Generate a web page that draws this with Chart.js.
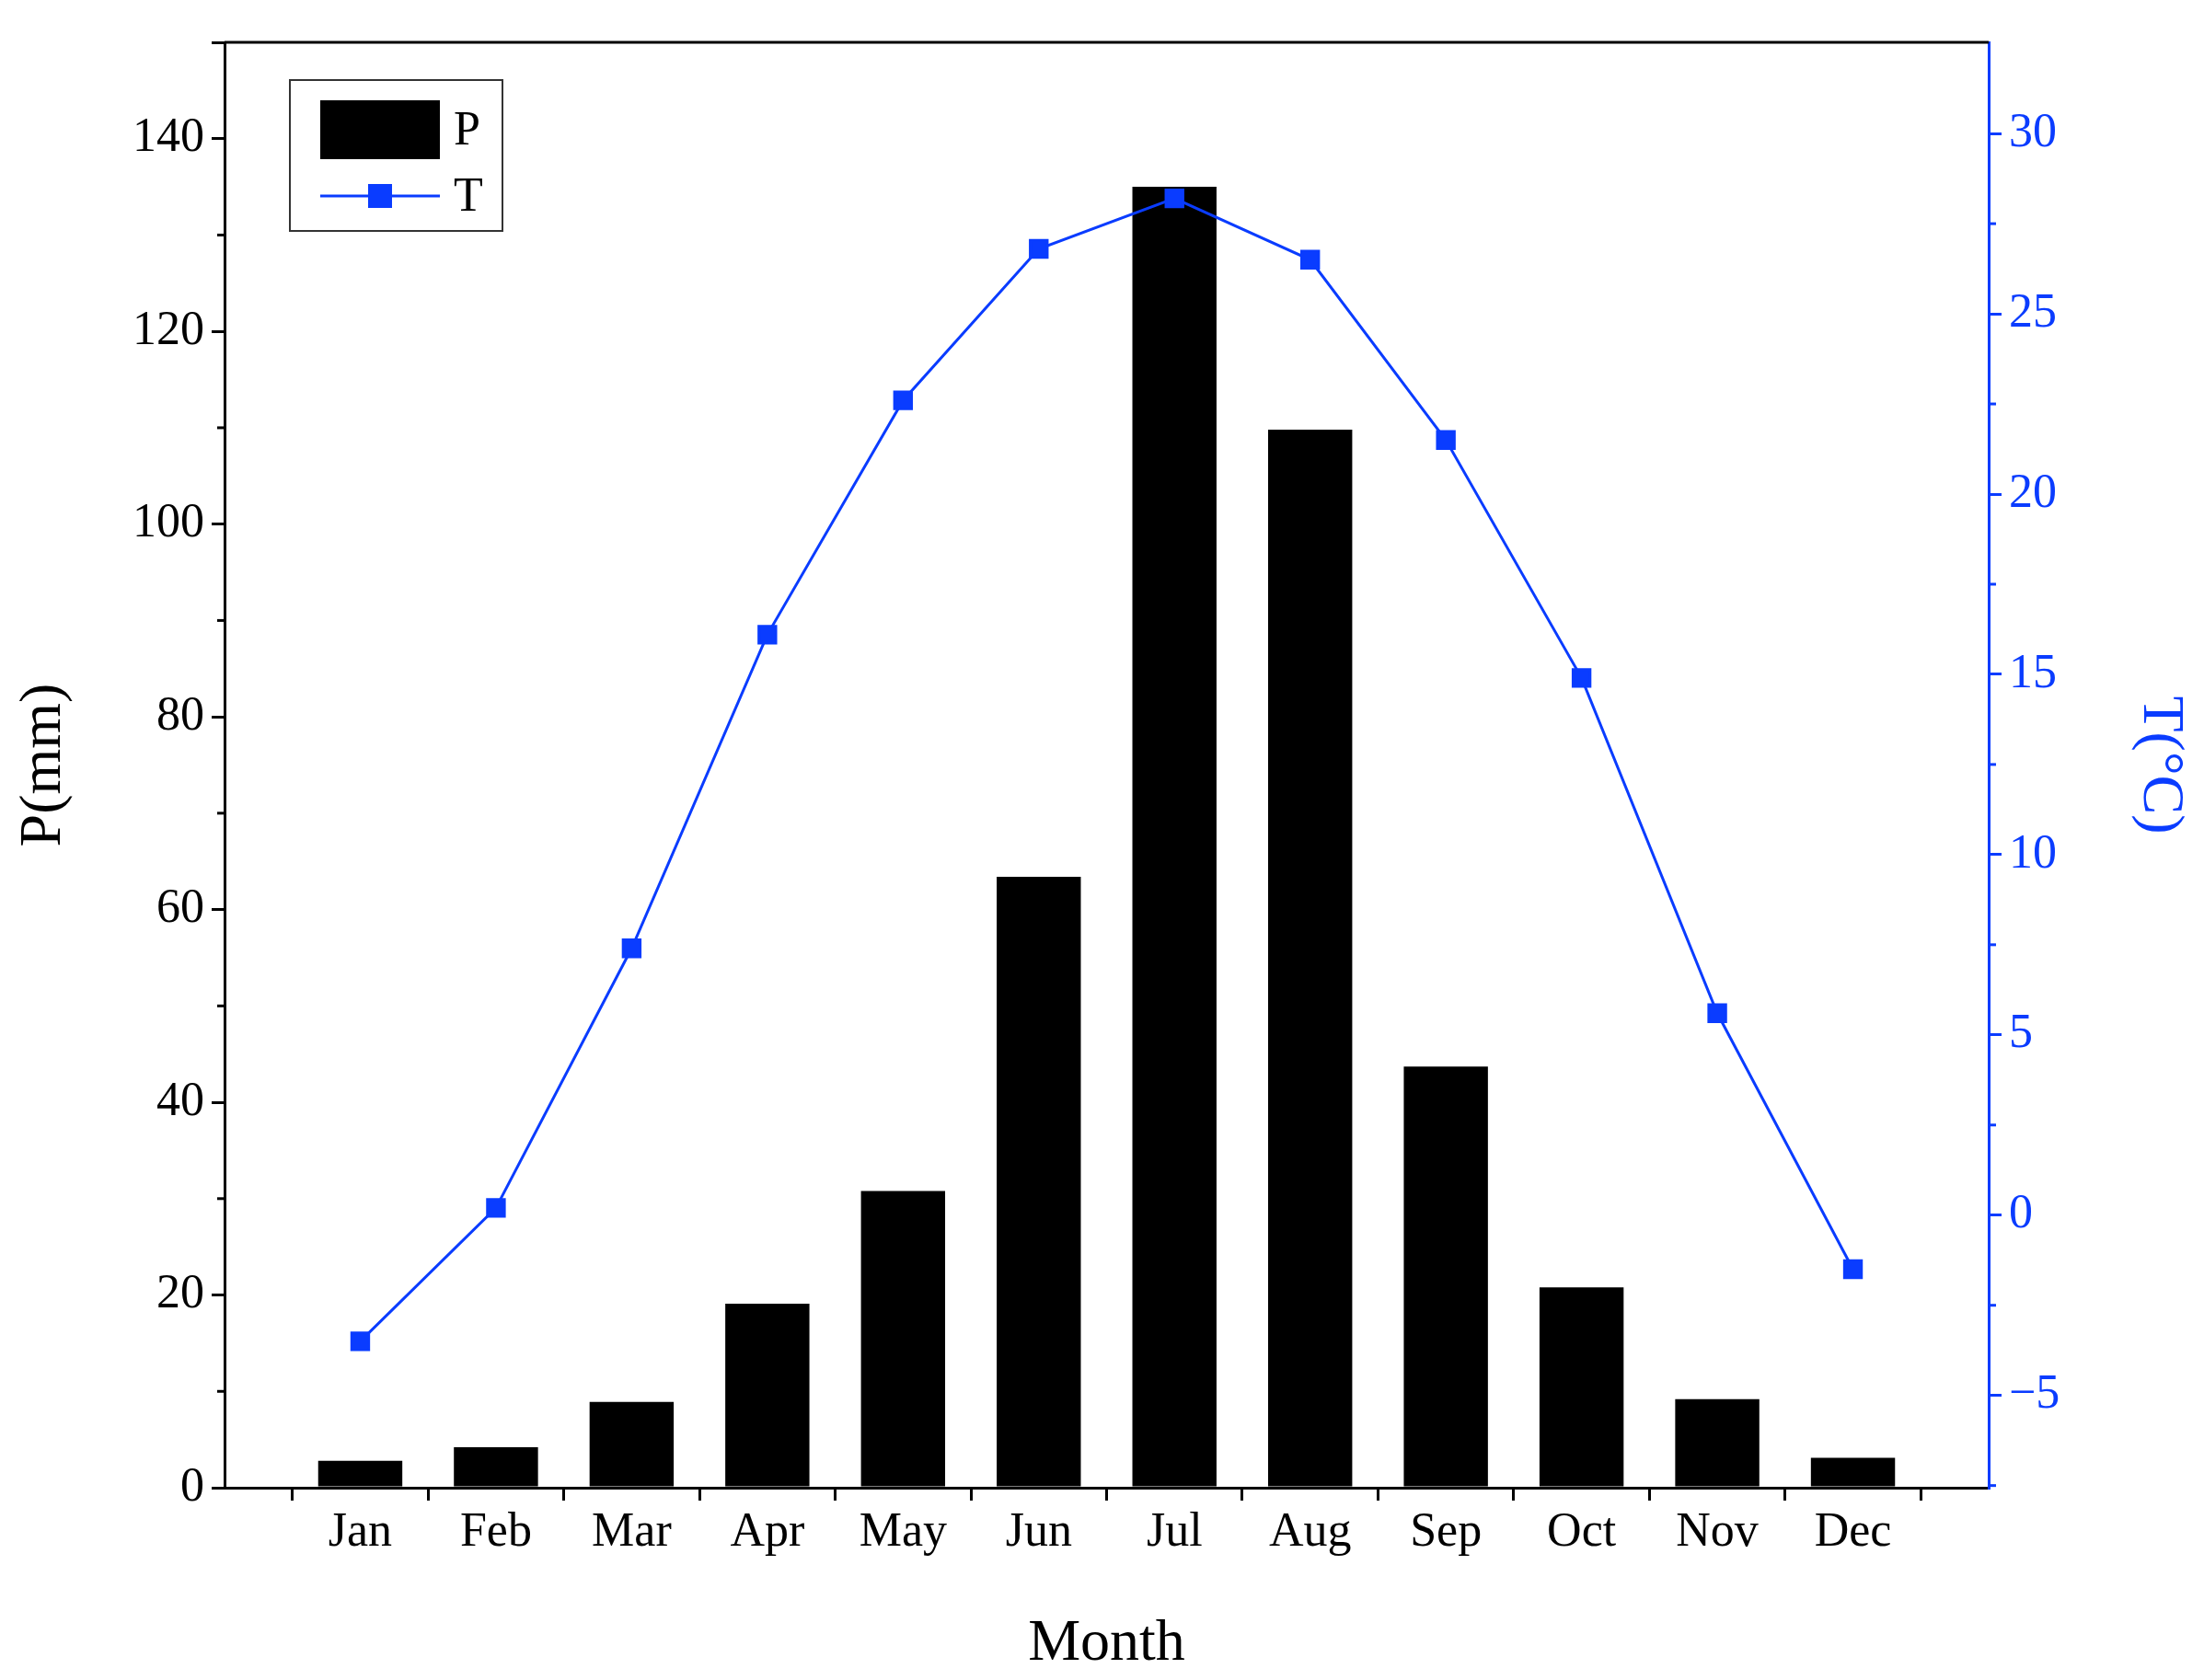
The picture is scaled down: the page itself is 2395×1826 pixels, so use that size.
<!DOCTYPE html>
<html>
<head>
<meta charset="utf-8">
<script src="https://cdn.jsdelivr.net/npm/chart.js@4"></script>
<style>
  html, body { margin: 0; padding: 0; background: #fff; }
  #wrap { width: 2395px; height: 1826px; }
</style>
</head>
<body>
<div id="wrap"><canvas id="climate"></canvas></div>
<script>
const months = ['Jan', 'Feb', 'Mar', 'Apr', 'May', 'Jun', 'Jul', 'Aug', 'Sep', 'Oct', 'Nov', 'Dec'];
const precip = [2.8, 4.2, 8.9, 19.1, 30.8, 63.4, 135, 109.8, 43.7, 20.8, 9.2, 3.1];
const temp = [-3.5, 0.2, 7.4, 16.1, 22.6, 26.8, 28.2, 26.5, 21.5, 14.9, 5.6, -1.5];

const blue = '#0a3cff';
const font = 'Liberation Serif';
const pad = arr => [null, ...arr, null];

const minorTicks = {
  id: 'minorTicks',
  afterDraw(chart) {
    const ctx = chart.ctx;
    const yl = chart.scales.y, yr = chart.scales.y2, a = chart.chartArea;
    ctx.save();
    ctx.lineWidth = 3;
    ctx.strokeStyle = '#000';
    for (let v = 10; v < 150; v += 20) {
      const y = yl.getPixelForValue(v);
      ctx.beginPath(); ctx.moveTo(a.left, y); ctx.lineTo(a.left - 8, y); ctx.stroke();
    }
    ctx.strokeStyle = blue;
    for (let v = -7.5; v < 32.5; v += 5) {
      const y = yr.getPixelForValue(v);
      ctx.beginPath(); ctx.moveTo(a.right, y); ctx.lineTo(a.right + 8, y); ctx.stroke();
    }
    // top border
    ctx.strokeStyle = '#000';
    ctx.beginPath(); ctx.moveTo(a.left, a.top); ctx.lineTo(a.right, a.top); ctx.stroke();
    // legend
    const lx = 315, ly = 87;
    ctx.lineWidth = 2;
    ctx.strokeStyle = '#333';
    ctx.strokeRect(lx, ly, 231, 164);
    ctx.fillStyle = '#000';
    ctx.fillRect(lx + 33, ly + 22, 130, 64);
    ctx.strokeStyle = blue; ctx.lineWidth = 3;
    ctx.beginPath(); ctx.moveTo(lx + 33, ly + 126); ctx.lineTo(lx + 163, ly + 126); ctx.stroke();
    ctx.fillStyle = blue;
    ctx.fillRect(lx + 85, ly + 113, 26, 26);
    ctx.fillStyle = '#000';
    ctx.font = '52px "' + font + '"';
    ctx.textBaseline = 'middle';
    ctx.fillText('P', lx + 178, ly + 56);
    ctx.fillText('T', lx + 178, ly + 128);
    ctx.restore();
  }
};

new Chart(document.getElementById('climate'), {
  data: {
    labels: pad(months).map(m => m || ''),
    datasets: [
      {
        type: 'line',
        label: 'T',
        data: pad(temp),
        yAxisID: 'y2',
        borderColor: blue,
        backgroundColor: blue,
        borderWidth: 3,
        pointStyle: 'rect',
        pointRadius: 13,
        tension: 0
      },
      {
        type: 'bar',
        label: 'P',
        data: pad(precip),
        yAxisID: 'y',
        backgroundColor: '#000',
        barPercentage: 0.62,
        categoryPercentage: 1
      }
    ]
  },
  options: {
    responsive: true,
    maintainAspectRatio: false,
    animation: false,
    layout: { padding: { top: 46 } },
    plugins: { legend: { display: false }, tooltip: { enabled: false } },
    scales: {
      x: {
        offset: false,
        border: { color: '#000', width: 3 },
        grid: { drawOnChartArea: false, tickLength: 14, tickColor: '#000', lineWidth: 3 },
        ticks: { color: '#000', font: { family: font, size: 52 }, maxRotation: 0, autoSkip: false, padding: 4 },
        title: { display: true, text: 'Month', color: '#000', font: { family: font, size: 64 }, padding: 0 },
        afterFit: s => { s.height = 209; }
      },
      y: {
        position: 'left',
        min: 0, max: 150,
        border: { color: '#000', width: 3 },
        grid: { drawOnChartArea: false, tickLength: 14, tickColor: '#000', lineWidth: 3 },
        ticks: { stepSize: 20, color: '#000', font: { family: font, size: 52 }, padding: 8,
                 callback: v => v > 140 ? '' : v },
        title: { display: true, text: 'P(mm)', color: '#000', font: { family: font, size: 64 }, padding: 10 },
        afterFit: s => { s.width = 244; }
      },
      y2: {
        position: 'right',
        min: -7.56, max: 32.53,
        border: { color: blue, width: 3 },
        grid: { drawOnChartArea: false, tickLength: 14, tickColor: blue, lineWidth: 3 },
        ticks: { stepSize: 5, color: blue, font: { family: font, size: 52 }, padding: 8,
                 callback: v => v.toString().replace('-', '\u2212') },
        afterBuildTicks: s => { s.ticks = [-5, 0, 5, 10, 15, 20, 25, 30].map(v => ({ value: v })); },
        title: { display: true, text: 'T(°C)', color: blue, font: { family: font, size: 64 }, padding: 10 },
        afterFit: s => { s.width = 234; }
      }
    }
  },
  plugins: [minorTicks]
});
</script>
</body>
</html>
